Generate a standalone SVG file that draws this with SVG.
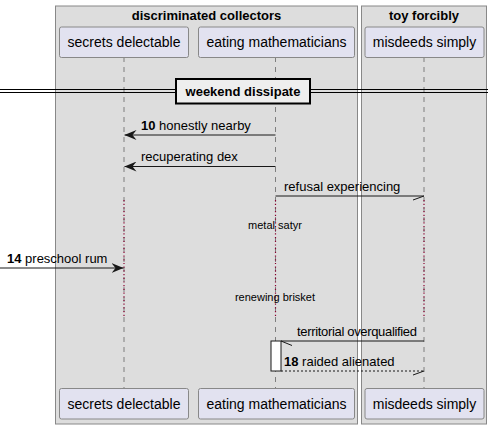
<svg xmlns="http://www.w3.org/2000/svg" width="493" height="429" viewBox="0 0 493 429">
<style>
text{font-family:"Liberation Sans",Arial,sans-serif;fill:#000}
.box{fill:#DDDDDD;stroke:#888888;stroke-width:1}
.bt{font-size:13px;font-weight:bold;text-anchor:middle}
.p{fill:#E2E2F0;stroke:#888888;stroke-width:1}
.pt{font-size:14px;text-anchor:middle}
.ll{stroke:#555555;stroke-width:0.7;stroke-dasharray:5,5;fill:none}
.dl{stroke:#8B0030;stroke-width:1.2;stroke-dasharray:1.2,2.5;fill:none}
.m{font-size:13px}
.d{font-size:11px;text-anchor:middle}
.ln{stroke:#181818;stroke-width:1;fill:none}
.dash{stroke:#181818;stroke-width:1;fill:none;stroke-dasharray:2,2}
</style>
<defs>
<marker id="ah" viewBox="0 0 12 10" refX="12" refY="5" markerWidth="12" markerHeight="10" markerUnits="userSpaceOnUse" orient="auto">
<polygon points="0,0 12,5 0,10 4,5" fill="#181818"/>
</marker>
</defs>
<g id="box-discriminated-collectors">
<rect class="box" x="55.5" y="6" width="302" height="418"/>
<text class="bt" x="206.5" y="20">discriminated collectors</text>
</g>
<g id="box-toy-forcibly">
<rect class="box" x="361.5" y="6" width="125" height="418"/>
<text class="bt" x="424" y="20">toy forcibly</text>
</g>
<g id="lifelines">
<line class="ll" x1="124" y1="57" x2="124" y2="388"/>
<line class="ll" x1="275.5" y1="57" x2="275.5" y2="388"/>
<line class="ll" x1="424" y1="57" x2="424" y2="388"/>
<line class="dl" x1="124" y1="200" x2="124" y2="317"/>
<line class="dl" x1="275.5" y1="200" x2="275.5" y2="317"/>
<line class="dl" x1="424" y1="200" x2="424" y2="317"/>
</g>
<g id="p-secrets-delectable">
<rect class="p" x="59.5" y="27" width="129" height="30.5" rx="2"/>
<text class="pt" x="124" y="47">secrets delectable</text>
<rect class="p" x="59.5" y="388.5" width="129" height="30.5" rx="2"/>
<text class="pt" x="124" y="409">secrets delectable</text>
</g>
<g id="p-eating-mathematicians">
<rect class="p" x="198.5" y="27" width="156" height="30.5" rx="2"/>
<text class="pt" x="276.5" y="47">eating mathematicians</text>
<rect class="p" x="198.5" y="388.5" width="156" height="30.5" rx="2"/>
<text class="pt" x="276.5" y="409">eating mathematicians</text>
</g>
<g id="p-misdeeds-simply">
<rect class="p" x="365" y="27" width="119" height="30.5" rx="2"/>
<text class="pt" x="424.5" y="47">misdeeds simply</text>
<rect class="p" x="365" y="388.5" width="119" height="30.5" rx="2"/>
<text class="pt" x="424.5" y="409">misdeeds simply</text>
</g>
<g id="divider-weekend-dissipate">
<line x1="0" y1="89.5" x2="488" y2="89.5" stroke="#000" stroke-width="1"/>
<line x1="0" y1="92.5" x2="488" y2="92.5" stroke="#000" stroke-width="1"/>
<rect x="176" y="79" width="134" height="24.5" fill="#EEEEEE" stroke="#000" stroke-width="2"/>
<text class="bt" x="243" y="96">weekend dissipate</text>
</g>
<g id="activation">
<rect x="271" y="341" width="10" height="30" fill="#FFFFFF" stroke="#181818" stroke-width="1"/>
</g>
<g id="connectors">
<line class="ln" x1="275.5" y1="135" x2="124.5" y2="135" marker-end="url(#ah)"/>
<text class="m" x="141" y="130"><tspan font-weight="bold">10</tspan> honestly nearby</text>
<line class="ln" x1="275.5" y1="166.5" x2="124.5" y2="166.5" marker-end="url(#ah)"/>
<text class="m" x="141" y="161">recuperating dex</text>
<line class="ln" x1="275.5" y1="196" x2="424" y2="196"/>
<line class="ln" x1="424" y1="196" x2="413" y2="200"/>
<text class="m" x="284" y="191">refusal experiencing</text>
<text class="d" x="275" y="229">metal satyr</text>
<line class="ln" x1="0" y1="268" x2="123.5" y2="268" marker-end="url(#ah)"/>
<text class="m" x="7" y="263"><tspan font-weight="bold">14</tspan> preschool rum</text>
<text class="d" x="275" y="301">renewing brisket</text>
<line class="ln" x1="424" y1="341" x2="281" y2="341"/>
<line class="ln" x1="281" y1="341" x2="292" y2="345.5"/>
<text class="m" x="297" y="336" textLength="120" lengthAdjust="spacing">territorial overqualified</text>
<line class="dash" x1="281" y1="371" x2="424" y2="371"/>
<line class="ln" x1="424" y1="371" x2="413" y2="375"/>
<text class="m" x="284" y="366"><tspan font-weight="bold">18</tspan> raided alienated</text>
</g>
</svg>
